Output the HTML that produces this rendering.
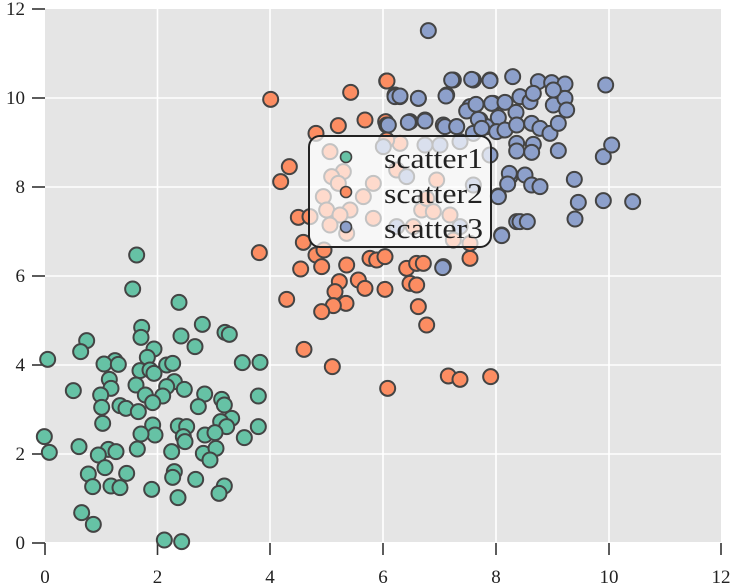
<!DOCTYPE html>
<html><head><meta charset="utf-8"><style>
html,body{margin:0;padding:0;background:#fff;}
svg{display:block;}
text{font-family:"Liberation Serif","DejaVu Serif",serif;fill:#222;}
</style></head><body>
<svg id="s" width="734" height="586" viewBox="0 0 734 586" xmlns="http://www.w3.org/2000/svg">
<rect x="45" y="9" width="676" height="533" fill="#e5e5e5"/>
<g stroke="#fff" stroke-width="1.6">
<line x1="157.5" y1="9" x2="157.5" y2="542"/><line x1="270" y1="9" x2="270" y2="542"/><line x1="383" y1="9" x2="383" y2="542"/><line x1="496" y1="9" x2="496" y2="542"/><line x1="609" y1="9" x2="609" y2="542"/>
<line x1="45" y1="98" x2="721" y2="98"/><line x1="45" y1="187" x2="721" y2="187"/><line x1="45" y1="276" x2="721" y2="276"/><line x1="45" y1="365" x2="721" y2="365"/><line x1="45" y1="454" x2="721" y2="454"/>
</g>
<g stroke="#333" stroke-width="1.6">
<line x1="45" y1="543" x2="45" y2="555"/><line x1="157.5" y1="543" x2="157.5" y2="555"/><line x1="270" y1="543" x2="270" y2="555"/><line x1="383" y1="543" x2="383" y2="555"/><line x1="496" y1="543" x2="496" y2="555"/><line x1="609" y1="543" x2="609" y2="555"/><line x1="721" y1="543" x2="721" y2="555"/>
<line x1="32" y1="9" x2="45" y2="9"/><line x1="32" y1="98" x2="45" y2="98"/><line x1="32" y1="187" x2="45" y2="187"/><line x1="32" y1="276" x2="45" y2="276"/><line x1="32" y1="365" x2="45" y2="365"/><line x1="32" y1="454" x2="45" y2="454"/><line x1="32" y1="543" x2="45" y2="543"/>
</g>
<g font-size="19" text-anchor="middle">
<text x="45" y="583">0</text><text x="157.5" y="583">2</text><text x="270" y="583">4</text><text x="383" y="583">6</text><text x="496" y="583">8</text><text x="609" y="583">10</text><text x="721" y="583">12</text>
</g>
<g font-size="19" text-anchor="end">
<text x="25" y="15">12</text><text x="25" y="104">10</text><text x="25" y="193">8</text><text x="25" y="282">6</text><text x="25" y="371">4</text><text x="25" y="460">2</text><text x="25" y="549">0</text>
</g>
<g id="pts" stroke="#444" stroke-width="2"></g>
<rect x="309" y="136" width="182" height="111" rx="11" ry="11" fill="#fff" fill-opacity="0.68" stroke="#222" stroke-width="2"/>
<g stroke="#444" stroke-width="1.6">
<circle cx="346" cy="157" r="5.5" fill="#66c2a5"/>
<circle cx="346" cy="192" r="5.5" fill="#fc8d62"/>
<circle cx="346" cy="227" r="5.5" fill="#8da0cb"/>
</g>
<g font-size="28">
<text x="384" y="168" textLength="99" lengthAdjust="spacingAndGlyphs">scatter1</text>
<text x="384" y="203" textLength="99" lengthAdjust="spacingAndGlyphs">scatter2</text>
<text x="384" y="238" textLength="99" lengthAdjust="spacingAndGlyphs">scatter3</text>
</g>
<script>
var G=[[320,45],[308,147],[447,187],[517,253],[335,262],[585,277],[598,283],[453,288],[333,292],[495,320],[170,302],[152,335],[372,327],[53,358],[352,352],[255,362],[222,372],[265,373],[410,375],[428,370],[330,392],[360,390],[372,400],[637,368],[690,367],[238,418],[243,445],[130,452],[318,435],[433,425],[463,448],[410,440],[212,465],[346,465],[398,468],[368,488],[524,462],[575,478],[685,468],[215,502],[270,497],[288,505],[325,515],[505,500],[583,495],[218,550],[368,555],[445,558],[470,560],[605,535],[572,545],[590,560],[375,585],[333,582],[460,590],[525,585],[555,578],[465,605],[43,590],[58,637],[147,620],[235,628],[258,635],[205,645],[322,627],[425,635],[520,640],[558,625],[540,660],[643,593],[685,560],[225,683],[175,702],[290,700],[433,695],[428,712],[497,718],[188,740],[243,738],[270,743],[365,748],[583,738],[567,760],[444,773],[155,818],[190,853],[403,900],[455,905]];
var O=[[440,33],[332,67],[92,88],[375,150],[295,167],[228,190],[437,155],[148,290],[122,335],[175,442],[58,548],[190,517],[228,555],[252,540],[182,597],[245,590],[320,585],[298,635],[285,665],[318,700],[280,707],[245,725],[140,688],[355,630],[375,655],[390,565],[410,570],[435,560],[435,658],[500,595],[530,580],[550,580],[510,640],[530,645],[535,710],[560,765],[690,565],[192,838],[277,890],[443,955],[625,918],[660,928],[752,920],[270,245],[310,305],[275,320],[250,380],[295,340],[400,340],[370,380],[330,420],[260,420],[300,435],[400,445],[270,465],[320,490],[480,220],[470,300],[590,330],[545,420],[580,425],[630,435],[520,470],[640,510],[690,520],[560,385],[210,440],[440,210]];
var B=[[175,47],[245,195],[305,193],[360,197],[428,185],[505,200],[545,203],[585,207],[707,210],[75,245],[90,243],[145,250],[228,243],[290,288],[318,268],[365,265],[405,262],[450,245],[480,260],[490,235],[550,270],[585,250],[590,285],[550,225],[438,292],[385,308],[325,313],[55,330],[115,322],[165,318],[225,335],[260,335],[335,340],[380,350],[405,345],[440,330],[485,325],[510,340],[540,355],[565,325],[440,385],[490,388],[440,408],[485,412],[565,407],[700,425],[725,390],[360,420],[418,475],[465,480],[485,510],[510,515],[413,507],[385,545],[613,493],[625,562],[700,557],[788,560],[615,612],[450,620],[472,620],[395,662],[218,758]];
var B4=[[440,165],[465,75],[480,80],[535,85],[510,155],[555,150],[610,165],[650,170],[620,75],[640,30],[700,30],[750,30],[610,590],[785,495],[775,378],[810,320],[830,455],[430,230],[555,225],[600,225],[660,215],[500,320],[700,345],[470,470],[660,470],[690,110],[720,150],[760,100],[790,180],[700,190],[740,170]];
var g=document.getElementById('pts'),ns='http://www.w3.org/2000/svg';
function add(x,y,c){var e=document.createElementNS(ns,'circle');e.setAttribute('cx',x);e.setAttribute('cy',y);e.setAttribute('r',7.5);e.setAttribute('fill',c);g.appendChild(e);}
G.forEach(function(p){add(30+p[0]/3,240+p[1]/3,'#66c2a5');});
O.forEach(function(p){add(240+p[0]/3,70+p[1]/3,'#fc8d62');});
add(387,81,'#fc8d62');
B4.forEach(function(p){add(240+p[0]/3,70+p[1]/3,'#8da0cb');});
B.forEach(function(p){add(370+p[0]/3,15+p[1]/3,'#8da0cb');});
</script>
</svg>
</body></html>
